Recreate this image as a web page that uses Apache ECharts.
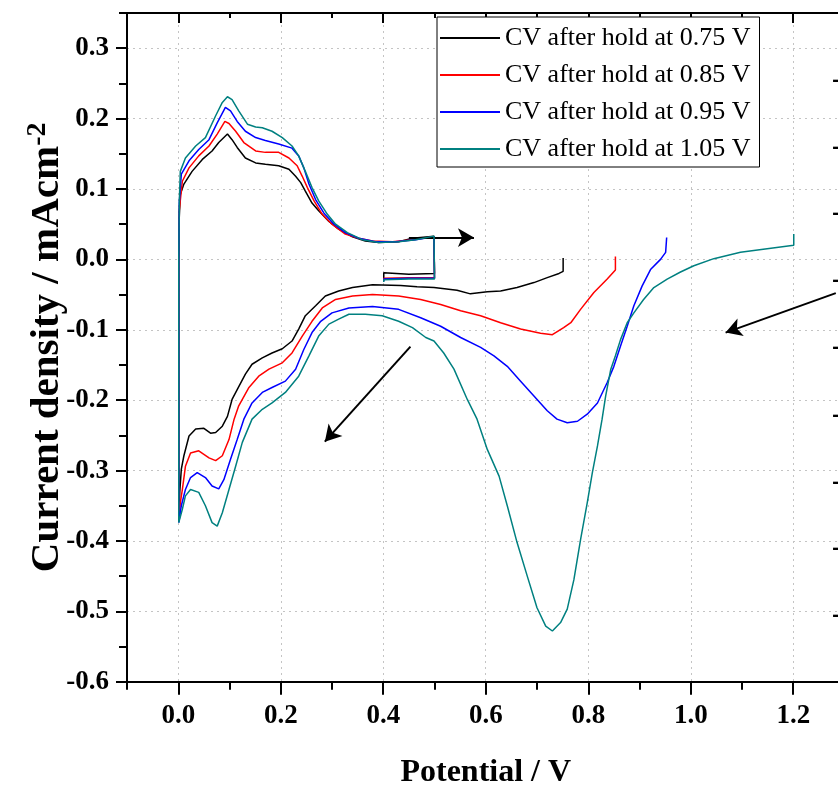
<!DOCTYPE html>
<html>
<head>
<meta charset="utf-8">
<script src="https://cdn.jsdelivr.net/npm/echarts@6/dist/echarts.min.js"></script>
<style>
  html, body { margin: 0; padding: 0; background: #fff; }
  #chart { width: 838px; height: 789px; }
</style>
</head>
<body>
<div id="chart"></div>
<script>
// ---------- data ----------
const seriesNames = [
  'CV after hold at 0.75 V',
  'CV after hold at 0.85 V',
  'CV after hold at 0.95 V',
  'CV after hold at 1.05 V'
];
const seriesColors = ['#000000', '#ff0000', '#0000ff', '#008080'];

// each curve: cathodic sweep from hold potential down to 0 V, then anodic sweep to 0.5 V, then back to 0.4 V
const cv075 = [
  [0.751,0.002],[0.751,-0.017],[0.743,-0.020],[0.720,-0.026],[0.694,-0.033],[0.661,-0.040],[0.629,-0.045],
  [0.603,-0.046],[0.570,-0.049],[0.544,-0.044],[0.499,-0.040],[0.466,-0.039],[0.434,-0.037],[0.379,-0.036],
  [0.340,-0.040],[0.313,-0.045],[0.287,-0.052],[0.268,-0.066],[0.248,-0.080],[0.235,-0.099],[0.222,-0.116],
  [0.203,-0.127],[0.183,-0.133],[0.164,-0.140],[0.144,-0.149],[0.131,-0.163],[0.115,-0.185],[0.105,-0.199],
  [0.096,-0.223],[0.086,-0.237],[0.073,-0.246],[0.063,-0.247],[0.050,-0.240],[0.034,-0.241],[0.021,-0.251],
  [0.011,-0.279],[0.006,-0.298],[0.003,-0.330],[0.001,-0.372],
  [0.001,0.000],[0.002,0.060],[0.004,0.092],[0.011,0.107],[0.027,0.125],[0.047,0.142],[0.066,0.154],
  [0.079,0.166],[0.096,0.178],[0.105,0.170],[0.115,0.159],[0.131,0.144],[0.151,0.137],[0.170,0.135],
  [0.196,0.133],[0.216,0.128],[0.229,0.118],[0.239,0.109],[0.248,0.097],[0.261,0.080],[0.274,0.069],
  [0.294,0.054],[0.313,0.043],[0.340,0.032],[0.365,0.026],[0.391,0.024],[0.430,0.025],[0.457,0.030],
  [0.499,0.033],[0.500,-0.020],[0.450,-0.021],[0.401,-0.019],[0.401,-0.028]
];
const cv085 = [
  [0.853,0.004],[0.853,-0.015],[0.837,-0.028],[0.811,-0.047],[0.785,-0.071],[0.766,-0.090],[0.752,-0.097],
  [0.730,-0.107],[0.707,-0.105],[0.668,-0.099],[0.629,-0.090],[0.590,-0.080],[0.551,-0.073],[0.512,-0.064],
  [0.473,-0.057],[0.430,-0.052],[0.379,-0.050],[0.340,-0.052],[0.307,-0.057],[0.281,-0.069],[0.261,-0.088],
  [0.242,-0.109],[0.222,-0.133],[0.203,-0.147],[0.177,-0.156],[0.157,-0.166],[0.138,-0.182],[0.118,-0.208],
  [0.109,-0.227],[0.099,-0.256],[0.086,-0.279],[0.073,-0.286],[0.060,-0.282],[0.040,-0.272],[0.024,-0.275],
  [0.014,-0.294],[0.008,-0.327],[0.004,-0.346],[0.001,-0.372],
  [0.001,0.000],[0.002,0.070],[0.008,0.111],[0.021,0.130],[0.040,0.147],[0.060,0.161],[0.076,0.178],
  [0.091,0.196],[0.099,0.193],[0.112,0.182],[0.128,0.166],[0.151,0.154],[0.170,0.152],[0.196,0.152],
  [0.216,0.144],[0.232,0.133],[0.242,0.118],[0.252,0.102],[0.265,0.083],[0.281,0.064],[0.300,0.050],
  [0.326,0.036],[0.352,0.030],[0.379,0.026],[0.418,0.025],[0.457,0.028],[0.499,0.032],
  [0.500,-0.026],[0.450,-0.026],[0.401,-0.027],[0.401,-0.030]
];
const cv095 = [
  [0.953,0.031],[0.951,0.010],[0.941,0.000],[0.922,-0.014],[0.905,-0.038],[0.889,-0.066],[0.876,-0.095],
  [0.863,-0.123],[0.850,-0.152],[0.837,-0.175],[0.818,-0.204],[0.798,-0.220],[0.779,-0.230],[0.759,-0.232],
  [0.739,-0.227],[0.720,-0.215],[0.694,-0.194],[0.668,-0.173],[0.642,-0.152],[0.616,-0.137],[0.590,-0.125],
  [0.551,-0.111],[0.512,-0.095],[0.473,-0.083],[0.430,-0.071],[0.379,-0.067],[0.333,-0.069],[0.300,-0.076],
  [0.278,-0.088],[0.261,-0.104],[0.245,-0.128],[0.229,-0.156],[0.209,-0.173],[0.183,-0.182],[0.164,-0.189],
  [0.144,-0.204],[0.128,-0.227],[0.115,-0.256],[0.102,-0.284],[0.089,-0.313],[0.079,-0.326],[0.066,-0.322],
  [0.053,-0.310],[0.037,-0.303],[0.024,-0.310],[0.014,-0.327],[0.006,-0.350],[0.001,-0.374],
  [0.001,0.000],[0.002,0.080],[0.006,0.121],[0.021,0.140],[0.040,0.156],[0.060,0.170],[0.076,0.194],
  [0.092,0.216],[0.102,0.211],[0.115,0.196],[0.131,0.182],[0.151,0.173],[0.170,0.169],[0.196,0.164],
  [0.222,0.158],[0.235,0.147],[0.245,0.130],[0.255,0.107],[0.268,0.085],[0.284,0.066],[0.304,0.050],
  [0.326,0.038],[0.352,0.030],[0.385,0.025],[0.424,0.025],[0.463,0.028],[0.499,0.032],
  [0.500,-0.027],[0.450,-0.027],[0.401,-0.028],[0.401,-0.031]
];
const cv105 = [
  [1.201,0.036],[1.201,0.020],[1.149,0.015],[1.097,0.010],[1.045,0.001],[1.006,-0.009],[0.980,-0.018],
  [0.954,-0.028],[0.928,-0.040],[0.908,-0.057],[0.889,-0.076],[0.876,-0.090],[0.863,-0.114],[0.853,-0.137],
  [0.844,-0.156],[0.834,-0.194],[0.827,-0.227],[0.818,-0.265],[0.808,-0.303],[0.798,-0.346],[0.785,-0.398],
  [0.772,-0.455],[0.759,-0.497],[0.746,-0.516],[0.730,-0.528],[0.717,-0.521],[0.700,-0.495],[0.681,-0.450],
  [0.661,-0.402],[0.642,-0.350],[0.626,-0.308],[0.603,-0.270],[0.583,-0.227],[0.564,-0.199],[0.538,-0.156],
  [0.518,-0.133],[0.499,-0.116],[0.483,-0.111],[0.457,-0.097],[0.430,-0.088],[0.398,-0.080],[0.365,-0.078],
  [0.333,-0.078],[0.313,-0.085],[0.294,-0.092],[0.274,-0.109],[0.255,-0.137],[0.235,-0.166],[0.209,-0.189],
  [0.183,-0.204],[0.164,-0.213],[0.144,-0.227],[0.125,-0.260],[0.112,-0.294],[0.099,-0.327],[0.086,-0.360],
  [0.076,-0.379],[0.066,-0.374],[0.053,-0.350],[0.040,-0.331],[0.024,-0.327],[0.014,-0.336],[0.008,-0.355],
  [0.001,-0.374],
  [0.001,0.000],[0.002,0.080],[0.004,0.125],[0.014,0.144],[0.034,0.161],[0.053,0.173],[0.073,0.204],
  [0.086,0.223],[0.096,0.231],[0.105,0.227],[0.118,0.211],[0.135,0.192],[0.151,0.188],[0.164,0.187],
  [0.183,0.182],[0.203,0.173],[0.222,0.161],[0.235,0.147],[0.248,0.125],[0.261,0.102],[0.274,0.083],
  [0.291,0.064],[0.307,0.050],[0.330,0.038],[0.359,0.028],[0.391,0.024],[0.430,0.025],[0.463,0.028],
  [0.499,0.033],[0.500,-0.028],[0.450,-0.028],[0.401,-0.029],[0.401,-0.032]
];
const curves = [cv075, cv085, cv095, cv105];

// arrows: [xStart, yStart, xEnd, yEnd] in data units
const arrows = [
  [0.450, 0.031, 0.577, 0.031],
  [0.453, -0.124, 0.286, -0.259],
  [1.283, -0.048, 1.068, -0.104]
];

const xRange = [-0.1, 1.3];
const yRange = [-0.6, 0.35];

// ---------- chart ----------
const FONT = '"Liberation Serif", "Times New Roman", serif';
const chart = echarts.init(document.getElementById('chart'));

const gridLine = { show: true, lineStyle: { color: '#c4c4c4', width: 1, type: [2, 4] } };
const fmt = v => (Math.abs(v) < 1e-9 ? 0 : v).toFixed(1);

const series = curves.map((d, i) => ({
  name: seriesNames[i],
  type: 'line',
  data: d,
  symbol: 'none',
  showSymbol: false,
  animation: false,
  lineStyle: { color: seriesColors[i], width: 1.5 },
  itemStyle: { color: seriesColors[i] },
  z: 2 + i
}));
series[0].markLine = {
  silent: true,
  animation: false,
  symbol: ['none', 'arrow'],
  symbolSize: [14, 16],
  label: { show: false },
  emphasis: { disabled: true },
  lineStyle: { color: '#000', width: 2, type: 'solid' },
  data: arrows.map(a => [{ coord: [a[0], a[1]] }, { coord: [a[2], a[3]] }])
};

const edgeMarks = [80, 147, 213, 280, 347, 415, 482, 548, 615];

chart.setOption({
  backgroundColor: '#fff',
  animation: false,
  grid: { left: 127, top: 13, width: 717.5, height: 668.7, containLabel: false, outerBoundsMode: 'none' },
  legend: {
    orient: 'vertical',
    left: 437, top: 17,
    icon: 'rect',
    itemWidth: 60, itemHeight: 2, itemGap: 7,
    padding: [6, 9, 3, 3],
    borderColor: '#000', borderWidth: 1,
    backgroundColor: '#fff',
    textStyle: { fontFamily: FONT, fontSize: 26, color: '#000', lineHeight: 30 },
    data: seriesNames
  },
  xAxis: [
    {
      type: 'value', min: xRange[0], max: xRange[1], splitNumber: 7, position: 'bottom',
      axisLine: { show: true, onZero: false, lineStyle: { color: '#000', width: 2 } },
      axisTick: { show: true, inside: false, length: 13, lineStyle: { color: '#000', width: 2 } },
      axisLabel: { show: true, margin: 21, showMinLabel: false, showMaxLabel: false, formatter: fmt,
        fontFamily: FONT, fontWeight: 'bold', fontSize: 27, color: '#000' },
      splitLine: gridLine,
      name: 'Potential / V', nameLocation: 'middle', nameGap: 75,
      nameTextStyle: { fontFamily: FONT, fontWeight: 'bold', fontSize: 32, color: '#000' }
    },
    {
      type: 'value', min: xRange[0], max: xRange[1], interval: 0.1, position: 'bottom',
      axisLine: { show: false, onZero: false },
      axisTick: { show: true, inside: false, length: 8, lineStyle: { color: '#000', width: 2 } },
      axisLabel: { show: false }, splitLine: { show: false }
    },
    {
      type: 'value', min: xRange[0], max: xRange[1], splitNumber: 7, position: 'top',
      axisLine: { show: true, onZero: false, lineStyle: { color: '#000', width: 2 } },
      axisTick: { show: true, inside: true, length: 10, lineStyle: { color: '#000', width: 2 } },
      axisLabel: { show: false }, splitLine: { show: false }
    },
    {
      type: 'value', min: xRange[0], max: xRange[1], interval: 0.1, position: 'top',
      axisLine: { show: false, onZero: false },
      axisTick: { show: true, inside: true, length: 5, lineStyle: { color: '#000', width: 2 } },
      axisLabel: { show: false }, splitLine: { show: false }
    }
  ],
  yAxis: [
    {
      type: 'value', min: yRange[0], max: yRange[1], interval: 0.1, position: 'left',
      axisLine: { show: true, onZero: false, lineStyle: { color: '#000', width: 2 } },
      axisTick: { show: true, inside: false, length: 11, lineStyle: { color: '#000', width: 2 } },
      axisLabel: { show: true, margin: 18, showMaxLabel: false, formatter: fmt,
        fontFamily: FONT, fontWeight: 'bold', fontSize: 27, color: '#000' },
      splitLine: gridLine,
      name: '{a|Current density / mAcm}{b|-2}', nameLocation: 'middle', nameGap: 57,
      nameMoveOverlap: false,
      nameTextStyle: {
        fontFamily: FONT, fontWeight: 'bold', fontSize: 41, color: '#000',
        rich: {
          a: { fontFamily: FONT, fontWeight: 'bold', fontSize: 41, color: '#000', lineHeight: 46 },
          b: { fontFamily: FONT, fontWeight: 'bold', fontSize: 28, color: '#000', lineHeight: 30, verticalAlign: 'top' }
        }
      }
    },
    {
      type: 'value', min: yRange[0], max: yRange[1], interval: 0.05, position: 'left',
      axisLine: { show: false, onZero: false },
      axisTick: { show: true, inside: false, length: 8, lineStyle: { color: '#000', width: 2 } },
      axisLabel: { show: false }, splitLine: { show: false }
    }
  ],
  graphic: edgeMarks.map(y => ({
    type: 'text', silent: true, x: 832, y: y,
    style: { text: '-', fill: '#000', font: 'bold 28px ' + FONT, verticalAlign: 'middle' }
  })),
  series: series
});
</script>
</body>
</html>
